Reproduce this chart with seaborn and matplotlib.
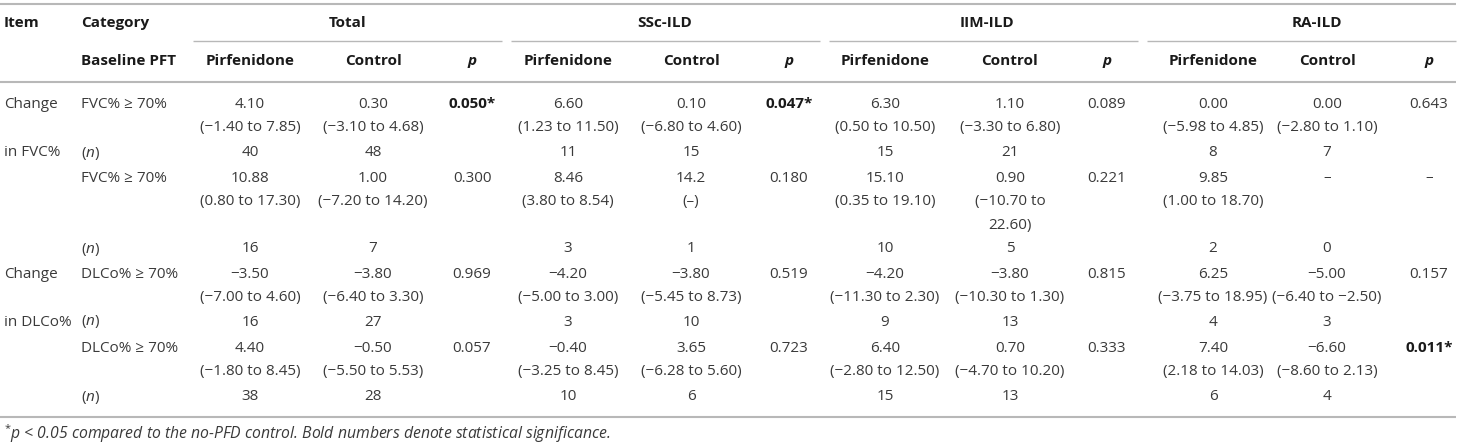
import numpy as np
import pandas as pd
import matplotlib.pyplot as plt
import seaborn as sns

# table content
groups = ["Total", "SSc-ILD", "IIM-ILD", "RA-ILD"]
sub_headers = ["Pirfenidone", "Control", "p"]
item_labels = ["Change", "in FVC%", "Change", "in DLCo%"]
categories = ["FVC% ≥ 70%", "(n)", "FVC% ≥ 70%", "(n)",
              "DLCo% ≥ 70%", "(n)", "DLCo% ≥ 70%", "(n)"]

total_pfd = ["4.10\n(−1.40 to 7.85)", "40", "10.88\n(0.80 to 17.30)", "16",
             "−3.50\n(−7.00 to 4.60)", "16", "4.40\n(−1.80 to 8.45)", "38"]
total_ctl = ["0.30\n(−3.10 to 4.68)", "48", "1.00\n(−7.20 to 14.20)", "7",
             "−3.80\n(−6.40 to 3.30)", "27", "−0.50\n(−5.50 to 5.53)", "28"]
total_p = ["0.050*", "", "0.300", "", "0.969", "", "0.057", ""]

ssc_pfd = ["6.60\n(1.23 to 11.50)", "11", "8.46\n(3.80 to 8.54)", "3",
           "−4.20\n(−5.00 to 3.00)", "3", "−0.40\n(−3.25 to 8.45)", "10"]
ssc_ctl = ["0.10\n(−6.80 to 4.60)", "15", "14.2\n(–)", "1",
           "−3.80\n(−5.45 to 8.73)", "10", "3.65\n(−6.28 to 5.60)", "6"]
ssc_p = ["0.047*", "", "0.180", "", "0.519", "", "0.723", ""]

iim_pfd = ["6.30\n(0.50 to 10.50)", "15", "15.10\n(0.35 to 19.10)", "10",
           "−4.20\n(−11.30 to 2.30)", "9", "6.40\n(−2.80 to 12.50)", "15"]
iim_ctl = ["1.10\n(−3.30 to 6.80)", "21", "0.90\n(−10.70 to\n22.60)", "5",
           "−3.80\n(−10.30 to 1.30)", "13", "0.70\n(−4.70 to 10.20)", "13"]
iim_p = ["0.089", "", "0.221", "", "0.815", "", "0.333", ""]

ra_pfd = ["0.00\n(−5.98 to 4.85)", "8", "9.85\n(1.00 to 18.70)", "2",
          "6.25\n(−3.75 to 18.95)", "4", "7.40\n(2.18 to 14.03)", "6"]
ra_ctl = ["0.00\n(−2.80 to 1.10)", "7", "–", "0",
          "−5.00\n(−6.40 to −2.50)", "3", "−6.60\n(−8.60 to 2.13)", "4"]
ra_p = ["0.643", "", "–", "", "0.157", "", "0.011*", ""]

footnote = "p < 0.05 compared to the no-PFD control. Bold numbers denote statistical significance."

group_cols = [(total_pfd, total_ctl, total_p), (ssc_pfd, ssc_ctl, ssc_p),
              (iim_pfd, iim_ctl, iim_p), (ra_pfd, ra_ctl, ra_p)]

# layout (pixel coordinates)
W, H = 1460, 445
row_y = [104, 153, 178, 249, 274, 322, 348, 397]
item_y = [104, 153, 274, 322]
line_h = 24
col_x = [[250, 373, 472], [568, 691, 789], [885, 1010, 1107], [1213, 1327, 1429]]
group_x = [348, 665, 987, 1317]
group_span = [(193, 502), (511, 820), (829, 1138), (1147, 1456)]

sns.set_theme(style="white")
plt.rcParams['font.family'] = ['Open Sans', 'DejaVu Sans']
plt.rcParams['mathtext.fontset'] = 'custom'
plt.rcParams['mathtext.rm'] = 'Open Sans'
plt.rcParams['mathtext.it'] = 'Open Sans:italic'
plt.rcParams['mathtext.bf'] = 'Open Sans:bold'

fs = 11
body_c = '#3a3a3a'
head_c = '#1a1a1a'
rule_c = '#b8b8b8'

fig = plt.figure(figsize=(W / 100, H / 100), dpi=100)
ax = fig.add_axes([0, 0, 1, 1])
ax.set_xlim(0, W)
ax.set_ylim(H, 0)
ax.axis('off')

# rules
ax.hlines([4, 82, 417], 0, 1456, color=rule_c, lw=1.5)
for x0, x1 in group_span:
    ax.hlines(41, x0, x1, color=rule_c, lw=1.0)

# header
ax.text(4, 23, "Item", fontsize=fs, fontweight='bold', color=head_c, va='center')
ax.text(81, 23, "Category", fontsize=fs, fontweight='bold', color=head_c, va='center')
ax.text(81, 61, "Baseline PFT", fontsize=fs, fontweight='bold', color=head_c, va='center')
for g, gx, cx in zip(groups, group_x, col_x):
    ax.text(gx, 23, g, fontsize=fs, fontweight='bold', color=head_c, ha='center', va='center')
    for lab, x in zip(sub_headers, cx):
        ax.text(x, 61, lab, fontsize=fs, fontweight='bold', color=head_c, ha='center', va='center',
                fontstyle='italic' if lab == 'p' else 'normal')

# left columns
for lab, y in zip(item_labels, item_y):
    ax.text(4, y, lab, fontsize=fs, color=body_c, va='center')
for lab, y in zip(categories, row_y):
    txt = "($n$)" if lab == "(n)" else lab
    ax.text(81, y, txt, fontsize=fs, color=body_c, va='center')

# body cells
for cols, cx in zip(group_cols, col_x):
    for vals, x in zip(cols, cx):
        for val, y in zip(vals, row_y):
            bold = val.endswith('*')
            for i, line in enumerate(val.split('\n')):
                ax.text(x, y + i * line_h, line, fontsize=fs, ha='center', va='center',
                        color=head_c if bold else body_c,
                        fontweight='bold' if bold else 'normal')

# footnote
ax.text(4, 434, r"$^{*}$" + footnote, fontsize=11.3, fontstyle='italic', color=body_c, va='center')

fig.savefig("out.png", dpi=100)
